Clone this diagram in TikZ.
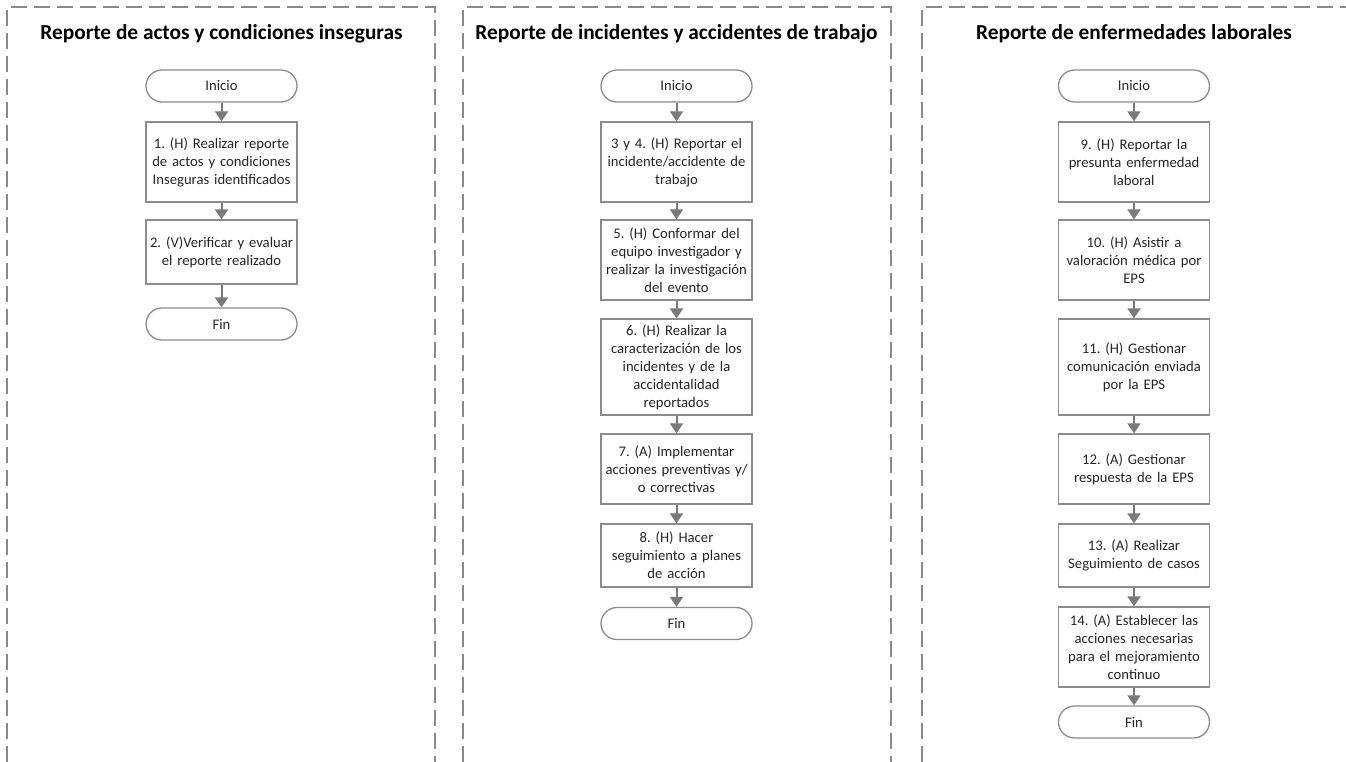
\documentclass[tikz,border=0pt]{standalone}
\usepackage{fontspec}
\setmainfont{Carlito}
\usetikzlibrary{arrows.meta}
\definecolor{boxgray}{HTML}{8C8C8C}
\definecolor{arrgray}{HTML}{7A7A7A}
\definecolor{dashgray}{HTML}{8A8A8A}
\definecolor{txt}{HTML}{262626}
\frenchspacing
\begin{document}
\begin{tikzpicture}[x=1pt,y=-1pt,
  proc/.style={draw=boxgray, line width=1.3pt, fill=white, minimum width=151pt,
    text width=149pt, align=center, inner sep=0pt,
    font=\fontsize{14.67}{18}\selectfont, text=txt},
  term/.style={proc, rounded corners=16pt, minimum height=32pt},
  flow/.style={draw=arrgray, line width=2pt, -{Triangle[width=13pt,length=10pt]}},
  ttl/.style={font=\fontsize{21.33}{25}\selectfont\bfseries, text=black, inner sep=0pt},
  frame/.style={draw=dashgray, line width=1.3pt, dash pattern=on 16pt off 7pt}]
\useasboundingbox (0,0) rectangle (1346,762);
\fill[white] (0,0) rectangle (1346,762);

% frames
\draw[frame] (7,762) -- (7,7) -- (435,7) -- (435,762);
\draw[frame] (463,762) -- (463,7) -- (891,7) -- (891,762);
\draw[frame] (922,762) -- (922,7) -- (1346,7);

% titles
\node[ttl] (t1) at (221.5,34) {Reporte de actos y condiciones inseguras};
\node[ttl] (t2) at (676.5,34) {Reporte de incidentes y accidentes de trabajo};
\node[ttl] (t3) at (1134,34) {Reporte de enfermedades laborales};

% column 1
\node[term] (a0) at (221.5,86) {Inicio};
\node[proc, minimum height=80pt] (a1) at (221.5,162) {1. (H) Realizar reporte\\de actos y condiciones\\Inseguras identificados};
\node[proc, minimum height=64pt] (a2) at (221.5,252) {2. (V)Verificar y evaluar\\el reporte realizado};
\node[term] (a3) at (221.5,324) {Fin};
\draw[flow] (a0) -- (a1);
\draw[flow] (a1) -- (a2);
\draw[flow] (a2) -- (a3);

% column 2
\node[term] (b0) at (676.5,86) {Inicio};
\node[proc, minimum height=80pt] (b1) at (676.5,162) {3 y 4. (H) Reportar el\\incidente/accidente de\\trabajo};
\node[proc, minimum height=80pt] (b2) at (676.5,260) {5. (H) Conformar del\\equipo investigador y\\realizar la investigación\\del evento};
\node[proc, minimum height=96pt] (b3) at (676.5,367) {6. (H) Realizar la\\caracterización de los\\incidentes y de la\\accidentalidad\\reportados};
\node[proc, minimum height=70pt] (b4) at (676.5,469) {7. (A) Implementar\\acciones preventivas y/\\o correctivas};
\node[proc, minimum height=63pt] (b5) at (676.5,555.5) {8. (H) Hacer\\seguimiento a planes\\de acción};
\node[term] (b6) at (676.5,623.5) {Fin};
\draw[flow] (b0) -- (b1);
\draw[flow] (b1) -- (b2);
\draw[flow] (b2) -- (b3);
\draw[flow] (b3) -- (b4);
\draw[flow] (b4) -- (b5);
\draw[flow] (b5) -- (b6);

% column 3
\node[term] (c0) at (1134,86) {Inicio};
\node[proc, minimum height=80pt] (c1) at (1134,162) {9. (H) Reportar la\\presunta enfermedad\\laboral};
\node[proc, minimum height=80pt] (c2) at (1134,260) {10. (H) Asistir a\\valoración médica por\\EPS};
\node[proc, minimum height=96pt] (c3) at (1134,367) {11. (H) Gestionar\\comunicación enviada\\por la EPS};
\node[proc, minimum height=70pt] (c4) at (1134,469) {12. (A) Gestionar\\respuesta de la EPS};
\node[proc, minimum height=63pt] (c5) at (1134,555.5) {13. (A) Realizar\\Seguimiento de casos};
\node[proc, minimum height=80pt] (c6) at (1134,647) {14. (A) Establecer las\\acciones necesarias\\para el mejoramiento\\continuo};
\node[term] (c7) at (1134,722) {Fin};
\draw[flow] (c0) -- (c1);
\draw[flow] (c1) -- (c2);
\draw[flow] (c2) -- (c3);
\draw[flow] (c3) -- (c4);
\draw[flow] (c4) -- (c5);
\draw[flow] (c5) -- (c6);
\draw[flow] (c6) -- (c7);
\end{tikzpicture}
\end{document}
